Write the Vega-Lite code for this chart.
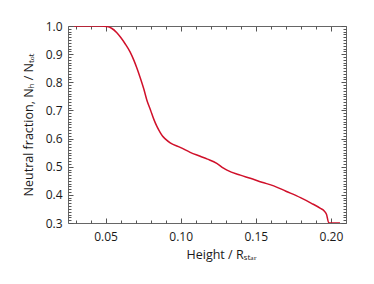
{
  "$schema": "https://vega.github.io/schema/vega-lite/v6.json",
  "width": 278,
  "height": 197,
  "autosize": "none",
  "padding": {"left": 68, "top": 26, "right": 28, "bottom": 61},
  "background": "white",
  "config": {
    "view": {"stroke": null},
    "axis": {
      "grid": false,
      "domainColor": "#666",
      "tickColor": "#555",
      "labelColor": "#1a1a1a",
      "titleColor": "#1a1a1a",
      "labelFont": "Open Sans",
      "titleFont": "Open Sans",
      "labelFontSize": 12,
      "titleFontSize": 12.5,
      "titleFontWeight": "normal"
    }
  },
  "data": {
    "values": [
      {"h": 0.029, "f": 1.0},
      {"h": 0.040, "f": 1.0},
      {"h": 0.047, "f": 1.0},
      {"h": 0.051, "f": 0.998},
      {"h": 0.054, "f": 0.992},
      {"h": 0.0575, "f": 0.976},
      {"h": 0.060, "f": 0.960},
      {"h": 0.063, "f": 0.937},
      {"h": 0.0663, "f": 0.908},
      {"h": 0.069, "f": 0.876},
      {"h": 0.071, "f": 0.848},
      {"h": 0.073, "f": 0.817},
      {"h": 0.0755, "f": 0.775},
      {"h": 0.0775, "f": 0.736},
      {"h": 0.080, "f": 0.700},
      {"h": 0.082, "f": 0.670},
      {"h": 0.084, "f": 0.645},
      {"h": 0.0863, "f": 0.622},
      {"h": 0.088, "f": 0.608},
      {"h": 0.0897, "f": 0.599},
      {"h": 0.093, "f": 0.585},
      {"h": 0.100, "f": 0.568},
      {"h": 0.1063, "f": 0.551},
      {"h": 0.113, "f": 0.537},
      {"h": 0.1178, "f": 0.527},
      {"h": 0.124, "f": 0.512},
      {"h": 0.1285, "f": 0.495},
      {"h": 0.1308, "f": 0.488},
      {"h": 0.1397, "f": 0.470},
      {"h": 0.1463, "f": 0.459},
      {"h": 0.154, "f": 0.445},
      {"h": 0.1619, "f": 0.432},
      {"h": 0.170, "f": 0.413},
      {"h": 0.1797, "f": 0.390},
      {"h": 0.187, "f": 0.370},
      {"h": 0.193, "f": 0.352},
      {"h": 0.1955, "f": 0.343},
      {"h": 0.197, "f": 0.331},
      {"h": 0.1985, "f": 0.301},
      {"h": 0.1995, "f": 0.3},
      {"h": 0.206, "f": 0.3}
    ]
  },
  "resolve": {"axis": {"x": "independent", "y": "independent"}},
  "layer": [
    {
      "mark": {"type": "line", "color": "#d0102a", "strokeWidth": 1.5, "clip": true, "interpolate": "monotone"},
      "encoding": {
        "x": {
          "field": "h", "type": "quantitative",
          "scale": {"domain": [0.025, 0.21], "nice": false, "zero": false},
          "axis": {
            "orient": "bottom", "values": [0.05, 0.1, 0.15, 0.2], "format": ".2f",
            "tickSize": -5, "labelPadding": 13, "domain": true,
            "title": "Height / Rₛₜₐᵣ", "titlePadding": 6,
            "titleAnchor": "start", "titleAlign": "left", "titleX": 118
          }
        },
        "y": {
          "field": "f", "type": "quantitative",
          "scale": {"domain": [0.3, 1.0], "nice": false, "zero": false},
          "axis": {
            "orient": "left", "values": [0.3, 0.4, 0.5, 0.6, 0.7, 0.8, 0.9, 1.0], "format": ".1f",
            "tickSize": -5, "labelPadding": 11, "domain": true,
            "title": "Neutral fraction,  Nₕ / Nₜₒₜ", "titlePadding": 10
          }
        }
      }
    },
    {
      "mark": {"type": "line", "strokeOpacity": 0},
      "encoding": {
        "x": {
          "field": "h", "type": "quantitative",
          "axis": {
            "orient": "bottom", "values": [0.03, 0.04, 0.06, 0.07, 0.08, 0.09, 0.11, 0.12, 0.13, 0.14, 0.16, 0.17, 0.18, 0.19, 0.21],
            "tickSize": -3, "labels": false, "domain": false, "title": null
          }
        },
        "y": {
          "field": "f", "type": "quantitative",
          "axis": {
            "orient": "left", "values": [0.31,0.32,0.33,0.34,0.35,0.36,0.37,0.38,0.39,0.41,0.42,0.43,0.44,0.45,0.46,0.47,0.48,0.49,0.51,0.52,0.53,0.54,0.55,0.56,0.57,0.58,0.59,0.61,0.62,0.63,0.64,0.65,0.66,0.67,0.68,0.69,0.71,0.72,0.73,0.74,0.75,0.76,0.77,0.78,0.79,0.81,0.82,0.83,0.84,0.85,0.86,0.87,0.88,0.89,0.91,0.92,0.93,0.94,0.95,0.96,0.97,0.98,0.99],
            "tickSize": -3, "labels": false, "domain": false, "title": null
          }
        }
      }
    },
    {
      "mark": {"type": "line", "strokeOpacity": 0},
      "encoding": {
        "x": {
          "field": "h", "type": "quantitative",
          "axis": {
            "orient": "top", "values": [0.05, 0.1, 0.15, 0.2],
            "tickSize": -5, "labels": false, "domain": true, "title": null
          }
        },
        "y": {
          "field": "f", "type": "quantitative",
          "axis": {
            "orient": "right", "values": [0.3, 0.4, 0.5, 0.6, 0.7, 0.8, 0.9, 1.0],
            "tickSize": -5, "labels": false, "domain": true, "title": null
          }
        }
      }
    },
    {
      "mark": {"type": "line", "strokeOpacity": 0},
      "encoding": {
        "x": {
          "field": "h", "type": "quantitative",
          "axis": {
            "orient": "top", "values": [0.03, 0.04, 0.06, 0.07, 0.08, 0.09, 0.11, 0.12, 0.13, 0.14, 0.16, 0.17, 0.18, 0.19, 0.21],
            "tickSize": -3, "labels": false, "domain": false, "title": null
          }
        },
        "y": {
          "field": "f", "type": "quantitative",
          "axis": {
            "orient": "right", "values": [0.31,0.32,0.33,0.34,0.35,0.36,0.37,0.38,0.39,0.41,0.42,0.43,0.44,0.45,0.46,0.47,0.48,0.49,0.51,0.52,0.53,0.54,0.55,0.56,0.57,0.58,0.59,0.61,0.62,0.63,0.64,0.65,0.66,0.67,0.68,0.69,0.71,0.72,0.73,0.74,0.75,0.76,0.77,0.78,0.79,0.81,0.82,0.83,0.84,0.85,0.86,0.87,0.88,0.89,0.91,0.92,0.93,0.94,0.95,0.96,0.97,0.98,0.99],
            "tickSize": -3, "labels": false, "domain": false, "title": null
          }
        }
      }
    }
  ]
}
